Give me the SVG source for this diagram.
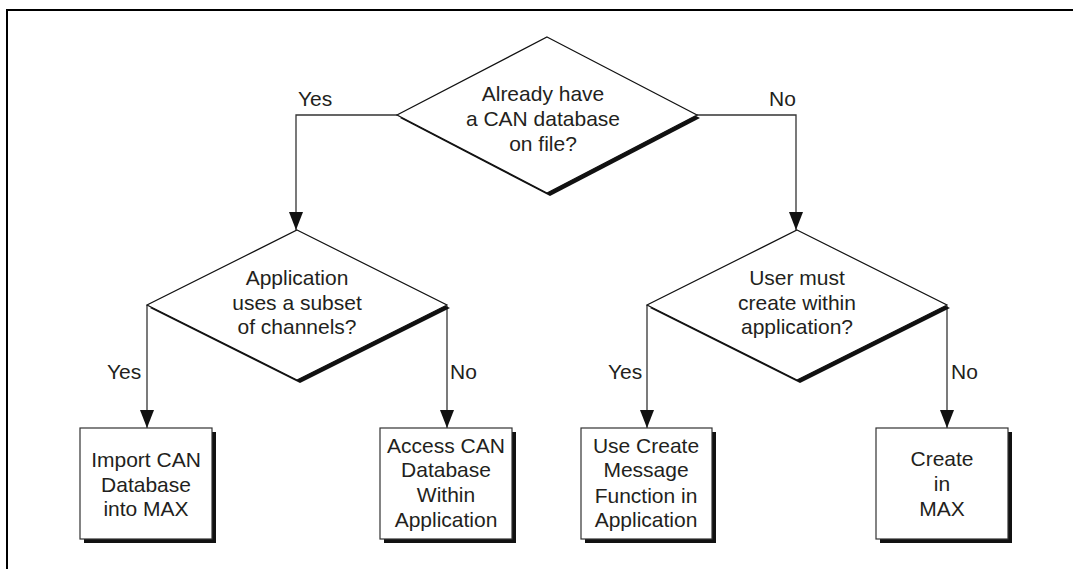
<svg xmlns="http://www.w3.org/2000/svg" width="1073" height="569" viewBox="0 0 1073 569">
<style>
.t{font-family:"Liberation Sans",Arial,sans-serif;font-size:21px;fill:#231f20;text-anchor:middle}
.l{font-family:"Liberation Sans",Arial,sans-serif;font-size:21px;fill:#231f20}
.sh{fill:#111}
.dia{fill:#fff;stroke:#111;stroke-width:1.2}
.box{fill:#fff;stroke:#333;stroke-width:1.2}
.con{fill:none;stroke:#333;stroke-width:1.3}
</style>
<defs>
<marker id="arr" markerUnits="userSpaceOnUse" viewBox="0 0 18 14" refX="18" refY="7" markerWidth="18" markerHeight="14" orient="auto">
<path d="M0,0 L18,7 L0,14 z" fill="#111"/>
</marker>
</defs>
<rect width="1073" height="569" fill="#fff"/>
<path d="M7,569 V10 H1073" fill="none" stroke="#000" stroke-width="2"/>
<g id="connectors">
<path class="con" d="M397,115 H296 V230" marker-end="url(#arr)"/>
<path class="con" d="M697,115 H796 V230" marker-end="url(#arr)"/>
<path class="con" d="M147,305 V428" marker-end="url(#arr)"/>
<path class="con" d="M447,306 V428" marker-end="url(#arr)"/>
<path class="con" d="M647,305 V428" marker-end="url(#arr)"/>
<path class="con" d="M947,306 V428" marker-end="url(#arr)"/>
<text class="l" x="298" y="106">Yes</text>
<text class="l" x="769" y="106">No</text>
<text class="l" x="107" y="379">Yes</text>
<text class="l" x="450" y="379">No</text>
<text class="l" x="608" y="379">Yes</text>
<text class="l" x="951" y="379">No</text>
</g>
<g id="d1">
<polygon class="sh" points="550,40 700,118 550,196 400,118"/>
<polygon class="dia" points="547,37 697,115 547,193 397,115"/>
<text class="t" x="543" y="101">Already have</text>
<text class="t" x="543" y="126">a CAN database</text>
<text class="t" x="543" y="151">on file?</text>
</g>
<g id="d2">
<polygon class="sh" points="300,233 450,308 300,383 150,308"/>
<polygon class="dia" points="297,230 447,305 297,380 147,305"/>
<text class="t" x="297" y="285">Application</text>
<text class="t" x="297" y="310">uses a subset</text>
<text class="t" x="297" y="334">of channels?</text>
</g>
<g id="d3">
<polygon class="sh" points="800,233 950,308 800,383 650,308"/>
<polygon class="dia" points="797,230 947,305 797,380 647,305"/>
<text class="t" x="797" y="285">User must</text>
<text class="t" x="797" y="310">create within</text>
<text class="t" x="797" y="334">application?</text>
</g>
<g id="b1">
<rect class="sh" x="84" y="432" width="132" height="111"/>
<rect class="box" x="80" y="428" width="132" height="111"/>
<text class="t" x="146" y="467">Import CAN</text>
<text class="t" x="146" y="492">Database</text>
<text class="t" x="146" y="516">into MAX</text>
</g>
<g id="b2">
<rect class="sh" x="384" y="432" width="132" height="111"/>
<rect class="box" x="380" y="428" width="132" height="111"/>
<text class="t" x="446" y="453">Access CAN</text>
<text class="t" x="446" y="477">Database</text>
<text class="t" x="446" y="502">Within</text>
<text class="t" x="446" y="527">Application</text>
</g>
<g id="b3">
<rect class="sh" x="585" y="432" width="131" height="111"/>
<rect class="box" x="581" y="428" width="131" height="111"/>
<text class="t" x="646" y="453">Use Create</text>
<text class="t" x="646" y="477">Message</text>
<text class="t" x="646" y="503">Function in</text>
<text class="t" x="646" y="527">Application</text>
</g>
<g id="b4">
<rect class="sh" x="880" y="432" width="132" height="111"/>
<rect class="box" x="876" y="428" width="132" height="111"/>
<text class="t" x="942" y="466">Create</text>
<text class="t" x="942" y="491">in</text>
<text class="t" x="942" y="516">MAX</text>
</g>
</svg>
